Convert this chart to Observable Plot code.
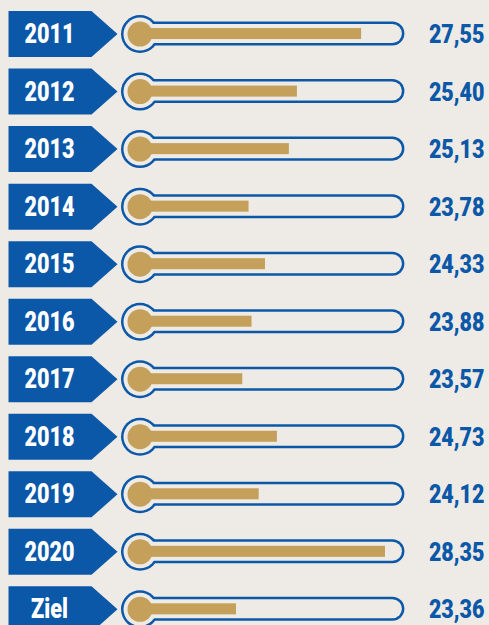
<!DOCTYPE html>
<html>
<head>
<meta charset="utf-8">
<script src="https://cdn.jsdelivr.net/npm/d3@7"></script>
<script src="https://cdn.jsdelivr.net/npm/@observablehq/plot@0.6"></script>
<style>
  html, body { margin: 0; padding: 0; background: #eeebe6; }
  #chart { width: 489px; height: 625px; overflow: hidden; }
</style>
</head>
<body>
<div id="chart"></div>
<script>
// Data
const labels = ["2011", "2012", "2013", "2014", "2015", "2016", "2017", "2018", "2019", "2020", "Ziel"];
const values = [27.55, 25.40, 25.13, 23.78, 24.33, 23.88, 23.57, 24.73, 24.12, 28.35, 23.36];
const scaleMin = 20;   // thermometer base value
const scaleMax = 29;   // thermometer top value

const rows = labels.map((label, i) => ({label, value: values[i], base: scaleMin, top: scaleMax}));

const BLUE = "#0b58a8";
const GOLD = "#c4a05a";
const BG = "#eeebe6";
const FONT = "Roboto, 'Liberation Sans', sans-serif";

// pennant-shaped flag symbol (anchored at its tip)
const flag = {
  draw(ctx) {
    ctx.moveTo(-109, -23);
    ctx.lineTo(-26, -23);
    ctx.lineTo(0, 0);
    ctx.lineTo(-26, 23);
    ctx.lineTo(-109, 23);
    ctx.closePath();
  }
};

const chart = Plot.plot({
  width: 489,
  height: 625,
  margin: 0,
  style: {background: BG, fontFamily: FONT},
  x: {domain: [scaleMin, scaleMax], range: [135.7, 404.4], axis: null},
  y: {type: "band", domain: labels, range: [4.8, 637.6], padding: 0, round: false, axis: null},
  marks: [
    // flags
    Plot.dot(rows, {y: "label", frameAnchor: "left", dx: 117, symbol: flag, r: 10, fill: BLUE, stroke: null}),
    Plot.text(rows, {y: "label", text: "label", frameAnchor: "left", dx: 49, dy: 0.5, textAnchor: "middle",
      fill: "white", fontSize: 27, fontWeight: 900, className: "yearlab"}),
    // thermometer tube (blue outline)
    Plot.barX(rows, {x1: "base", x2: "top", y: "label", insetTop: 16.75, insetBottom: 16.75, rx: 12, fill: BLUE}),
    Plot.dot(rows, {x: "base", y: "label", dx: 3.8, r: 19, fill: BLUE}),
    Plot.dot(rows, {x: "base", y: "label", dx: 3.8, r: 16.5, fill: BG}),
    Plot.barX(rows, {x1: "base", x2: "top", y: "label", insetTop: 19.25, insetBottom: 19.25, insetRight: 2.5, rx: 9.5, fill: BG}),
    // mercury
    Plot.barX(rows, {x1: "base", x2: "value", y: "label", insetTop: 23.25, insetBottom: 23.25, fill: GOLD}),
    Plot.dot(rows, {x: "base", y: "label", dx: 3.8, r: 12.5, fill: GOLD}),
    // values
    Plot.text(rows, {y: "label", text: d => d.value.toFixed(2).replace(".", ","), frameAnchor: "right", dx: -5, dy: 1,
      textAnchor: "end", fill: BLUE, fontSize: 25, fontWeight: 900, className: "vallab"})
  ]
});

// condense the heavy lettering like the original's narrow typeface
d3.select(chart).selectAll(".yearlab text").each(function () {
  const t = this.getAttribute("transform") || "";
  this.setAttribute("transform", t + " scale(0.8,1)");
});
d3.select(chart).selectAll(".vallab text").each(function () {
  const t = this.getAttribute("transform") || "";
  this.setAttribute("transform", t + " scale(0.86,1)");
});
document.getElementById("chart").append(chart);
</script>
</body>
</html>
